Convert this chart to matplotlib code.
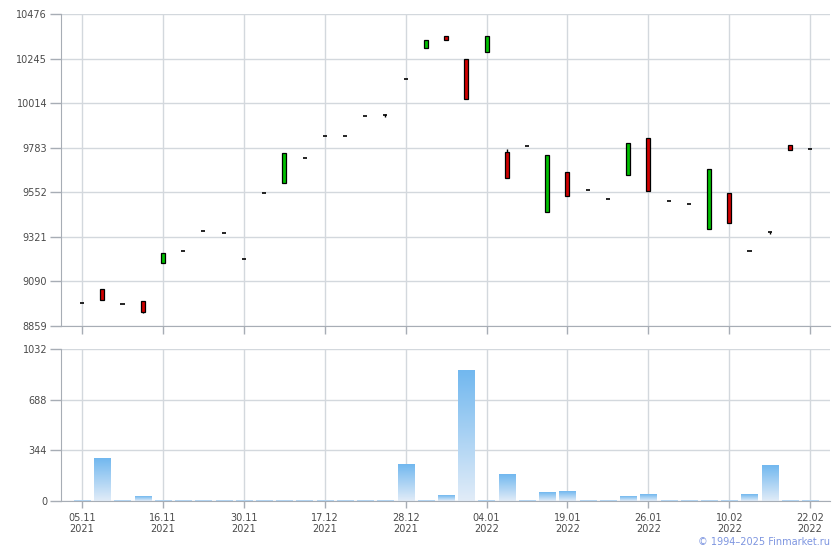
import numpy as np
import matplotlib.pyplot as plt
from matplotlib.colors import LinearSegmentedColormap

# daily candles, 05.11.2021 - 22.02.2022
opens = [8977, 9049, 8971, 8987, 9184, 9248, 9351, 9339, 9206, 9548,
         9599, 9728, 9842, 9842, 9946, 9951, 10137, 10301, 10360, 10241,
         10281, 9759, 9790, 9448, 9656, 9562, 9516, 9640, 9832, 9505,
         9490, 9363, 9547, 9246, 9345, 9796, 9775]
closes = [8977, 8992, 8971, 8933, 9236, 9248, 9351, 9339, 9206, 9548,
          9754, 9728, 9842, 9842, 9946, 9951, 10137, 10340, 10343, 10037,
          10360, 9628, 9790, 9744, 9534, 9562, 9516, 9806, 9560, 9505,
          9490, 9671, 9394, 9246, 9345, 9773, 9775]
highs = [8977, 9049, 8971, 8987, 9236, 9248, 9351, 9339, 9206, 9548,
         9754, 9728, 9842, 9842, 9946, 9958, 10137, 10340, 10360, 10241,
         10360, 9776, 9790, 9744, 9656, 9562, 9516, 9806, 9832, 9505,
         9490, 9671, 9547, 9246, 9345, 9796, 9775]
lows = [8977, 8992, 8971, 8928, 9184, 9248, 9351, 9339, 9206, 9548,
        9599, 9728, 9842, 9842, 9946, 9944, 10137, 10301, 10343, 10037,
        10281, 9628, 9790, 9448, 9534, 9562, 9516, 9640, 9560, 9505,
        9490, 9363, 9394, 9246, 9338, 9773, 9775]
volumes = [6, 287, 6, 29, 6, 6, 6, 6, 6, 6,
           6, 6, 6, 6, 6, 6, 246, 6, 36, 885,
           6, 178, 6, 56, 63, 6, 6, 29, 42, 6,
           6, 6, 6, 42, 238, 6, 6]

tick_pos = [0, 4, 8, 12, 16, 20, 24, 28, 32, 36]
tick_labels = ["05.11\n2021", "16.11\n2021", "30.11\n2021", "17.12\n2021", "28.12\n2021",
               "04.01\n2022", "19.01\n2022", "26.01\n2022", "10.02\n2022", "22.02\n2022"]
price_ticks = [8859, 9090, 9321, 9552, 9783, 10014, 10245, 10476]
vol_ticks = [0, 344, 688, 1032]

grid_c = "#d3d8dd"
spine_c = "#a7adb5"
text_c = "#4a4a4a"

fig = plt.figure(figsize=(8.4, 5.5), dpi=100)
ax = fig.add_axes([61 / 840, 1 - 326 / 550, 769 / 840, 312 / 550])
axv = fig.add_axes([61 / 840, 1 - 501 / 550, 769 / 840, 152 / 550])

x = np.arange(len(opens))
xlim = (-1.04, 36.98)


def style(a):
    a.set_xlim(*xlim)
    for s in ["top", "right"]:
        a.spines[s].set_visible(False)
    for s in ["left", "bottom"]:
        a.spines[s].set_color(spine_c)
    a.grid(True, color=grid_c, linewidth=1)
    a.set_axisbelow(True)
    a.tick_params(colors=spine_c, labelcolor=text_c, labelsize=7, width=1)
    a.tick_params(axis="y", length=8, pad=2)
    a.set_xticks(tick_pos)


style(ax)
ax.set_ylim(8859, 10476)
ax.set_yticks(price_ticks)
ax.set_xticklabels([])
ax.tick_params(axis="x", length=6)

bw = 0.2
for i in x:
    o, c, h, l = opens[i], closes[i], highs[i], lows[i]
    ax.vlines(i, l, h, color="black", linewidth=1, zorder=2)
    if abs(c - o) < 3:
        ax.hlines(o, i - 0.1, i + 0.1, color="black", linewidth=1.2, zorder=3)
    else:
        col = "#00c000" if c > o else "#d00000"
        ax.bar(i, abs(c - o), bottom=min(o, c), width=bw, color=col,
               edgecolor="black", linewidth=0.9, zorder=3)

style(axv)
axv.set_ylim(0, 1032)
axv.set_yticks(vol_ticks)
axv.set_xticklabels(tick_labels, fontsize=7, linespacing=1.1)
axv.tick_params(axis="x", length=5)

# gradient bars
grad = np.linspace(0, 1, 100).reshape(-1, 1)
cmap = LinearSegmentedColormap.from_list("vol", ["#e1ecf8", "#72b8ef"])
for i in x:
    v = volumes[i]
    axv.imshow(grad, cmap=cmap, aspect="auto", origin="lower",
               extent=(i - 0.4, i + 0.4, 0, v), zorder=2, interpolation="bilinear")
axv.set_xlim(*xlim)
axv.set_ylim(0, 1032)

fig.text(830 / 840, 1 - 542 / 550, "\u00a9 1994\u20132025 Finmarket.ru", color="#7d95e0",
         fontsize=7, ha="right", va="center")

fig.savefig("out.png", dpi=100)
